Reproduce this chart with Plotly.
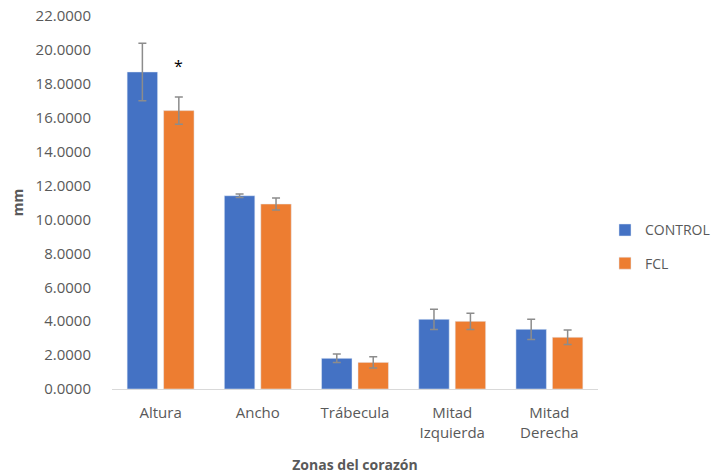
import plotly.graph_objects as go

# Heart-zone measurements (mm), mean and error per group
zonas = ["Altura", "Ancho", "Trábecula", "Mitad<br>Izquierda", "Mitad<br>Derecha"]
control_vals = [18.70, 11.40, 1.81, 4.11, 3.52]
control_err = [1.70, 0.10, 0.25, 0.60, 0.60]
fcl_vals = [16.42, 10.91, 1.57, 3.99, 3.05]
fcl_err = [0.80, 0.35, 0.33, 0.48, 0.43]
y_ticks = [0, 2, 4, 6, 8, 10, 12, 14, 16, 18, 20, 22]

BLUE = "#4472C4"
ORANGE = "#ED7D31"
ERR = "#8C8C8C"
TEXT = "#595959"
FONT = "Open Sans"

fig = go.Figure()
fig.add_trace(go.Bar(
    name="CONTROL", x=zonas, y=control_vals, marker_color=BLUE,
    legendgroup="c",
    error_y=dict(type="data", array=control_err, color=ERR, thickness=1.5, width=4),
))
fig.add_trace(go.Bar(
    name="FCL", x=zonas, y=fcl_vals, marker_color=ORANGE,
    legendgroup="f",
    error_y=dict(type="data", array=fcl_err, color=ERR, thickness=1.5, width=4),
))

# significance marker above the FCL bar of the first zone
fig.add_annotation(x=zonas[0], y=19.05, text="*", showarrow=False, xshift=18,
                   font=dict(family=FONT, size=16, color="#000000"))

fig.update_layout(
    width=717, height=474,
    margin=dict(l=112, r=119, t=16, b=85, autoexpand=False),
    paper_bgcolor="white", plot_bgcolor="white",
    barmode="group", bargap=0.25, bargroupgap=0.164,
    font=dict(family=FONT, size=14, color=TEXT),
    legend=dict(x=1.0144, y=0.381, xanchor="left", yanchor="middle",
                font=dict(family=FONT, size=14, color=TEXT),
                traceorder="grouped", tracegroupgap=12,
                itemwidth=30),
    showlegend=True,
)
fig.update_xaxes(
    automargin=False,
    showline=True, linecolor="#D9D9D9", linewidth=1, ticks="",
    ticklabelstandoff=10,
    tickfont=dict(family=FONT, size=15, color=TEXT),
    title=dict(text="<b>Zonas del corazón</b>", font=dict(family=FONT, size=14, color=TEXT),
               standoff=19),
)
fig.update_yaxes(
    automargin=False,
    range=[0, 22], tickvals=y_ticks, tickformat=".4f",
    showgrid=False, zeroline=False, showline=False, ticks="",
    ticklabelstandoff=20,
    tickfont=dict(family=FONT, size=15, color=TEXT),
    title=dict(text="<b>mm</b>", font=dict(family=FONT, size=14, color=TEXT), standoff=8),
)

fig.write_html("out.html")
